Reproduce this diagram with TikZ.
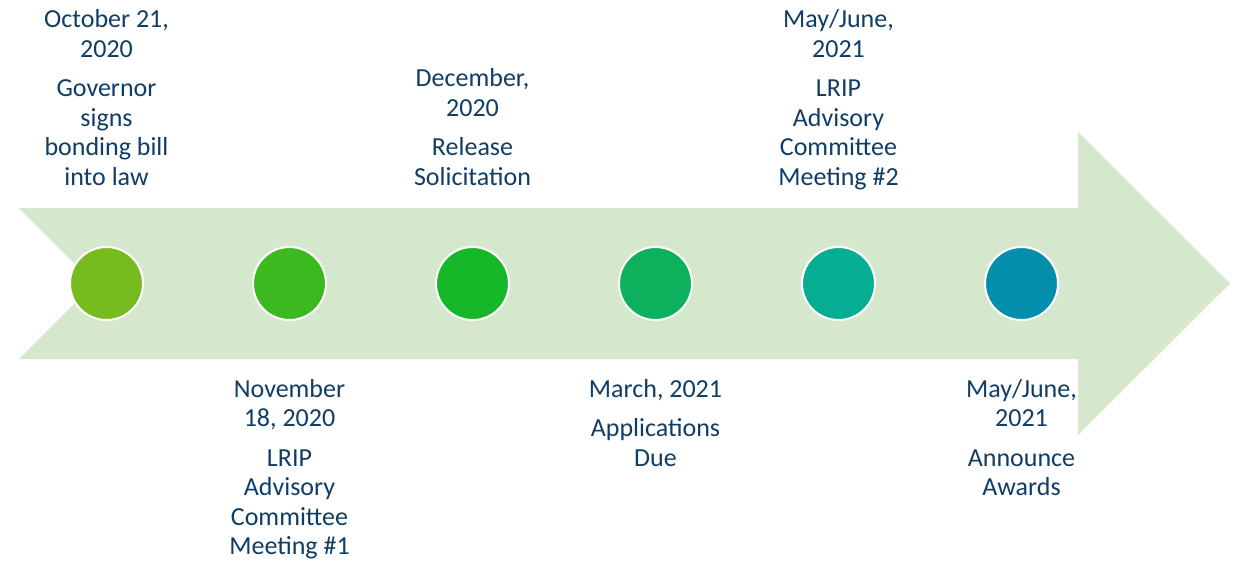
\documentclass[tikz,border=0pt]{standalone}
\usepackage{fontspec}
\setmainfont{Carlito}
\usepackage{xcolor}
\usetikzlibrary{positioning}
\definecolor{arrowfill}{HTML}{D5E8CD}
\definecolor{labeltext}{HTML}{0F3D66}
\definecolor{dotA}{HTML}{77BC1F}
\definecolor{dotB}{HTML}{3CB91E}
\definecolor{dotC}{HTML}{17B72A}
\definecolor{dotD}{HTML}{0DB05C}
\definecolor{dotE}{HTML}{05AE92}
\definecolor{dotF}{HTML}{038EAB}
\begin{document}
\begin{tikzpicture}[x=1pt,y=-1pt,
			dotnode/.style={circle, draw=white, line width=2pt, minimum size=73pt, inner sep=0pt},
			toplabel/.style={text=labeltext, align=center, inner sep=0pt, anchor=base, font=\fontsize{26}{29.5}\selectfont},
			bottomlabel/.style={text=labeltext, align=center, inner sep=0pt, anchor=north, font=\fontsize{26}{29.5}\selectfont},
			]
			\useasboundingbox (0,0) rectangle (1238,560);
			%Arrow
			\fill[arrowfill] (19,208) -- (1078,208) -- (1078,132) -- (1230,283.5) -- (1078,435) -- (1078,359) -- (19,359) -- (94.5,283.5) -- cycle;
			
			%Nodes
			\node[dotnode, fill=dotA] (Signed) at (106.5,283.5) {};
			\node[dotnode, fill=dotB] (MeetingOne) at (289.5,283.5) {};
			\node[dotnode, fill=dotC] (Release) at (472.5,283.5) {};
			\node[dotnode, fill=dotD] (Due) at (655.5,283.5) {};
			\node[dotnode, fill=dotE] (MeetingTwo) at (838.5,283.5) {};
			\node[dotnode, fill=dotF] (Awards) at (1021.5,283.5) {};
			
			%Labels
			\node[toplabel] (SignedText) at (106.5,185) {October 21,\\ 2020\\[10pt] Governor\\ signs\\ bonding bill\\ into law};
			\node[toplabel] (ReleaseText) at (472.5,185) {December,\\ 2020\\[10pt] Release\\ Solicitation};
			\node[toplabel] (MeetingTwoText) at (838.5,185) {May/June,\\ 2021\\[10pt] LRIP\\ Advisory\\ Committee\\ Meeting \#2};
			
			\node[bottomlabel] (MeetingOneText) at (289.5,379) {November\\ 18, 2020\\[10pt] LRIP\\ Advisory\\ Committee\\ Meeting \#1};
			\node[bottomlabel] (DueText) at (655.5,379) {March, 2021\\[10pt] Applications\\ Due};
			\node[bottomlabel] (AwardsText) at (1021.5,379) {May/June,\\ 2021\\[10pt] Announce\\ Awards};
		\end{tikzpicture}
\end{document}
